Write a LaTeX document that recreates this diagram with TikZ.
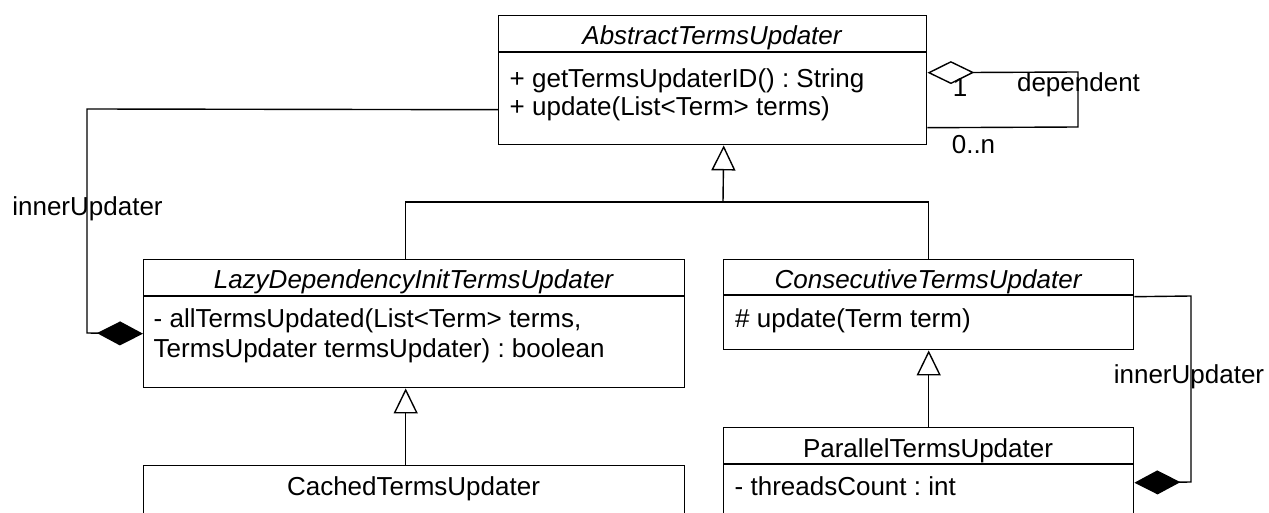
\documentclass[tikz,border=0pt]{standalone}
\usepackage{fontspec}
\setmainfont{Liberation Sans}
\usetikzlibrary{arrows.meta}
\frenchspacing
\begin{document}
\begin{tikzpicture}[x=1pt,y=-1pt,line width=1.4pt,
  cls/.style={draw,rectangle,inner sep=0pt,anchor=north west},
  txt/.style={inner sep=0pt,font=\fontsize{26}{28}\selectfont\frenchspacing},
  ttl/.style={txt,anchor=base},
  mem/.style={txt,anchor=base west},
  gen/.style={-{Triangle[open,length=25pt,width=24pt]}},
  comp/.style={-{Diamond[length=46pt,width=24pt]}},
  agg/.style={-{Diamond[open,length=47pt,width=23pt]}}]
\useasboundingbox (0,0) rectangle (1269,513);
\clip (0,0) rectangle (1269,513);
% class boxes
\node[cls,minimum width=428pt,minimum height=129pt] (abs) at (498,15) {};
\node[cls,minimum width=541pt,minimum height=128pt] (lazy) at (143,259) {};
\node[cls,minimum width=410pt,minimum height=90pt] (cons) at (723,259) {};
\node[cls,minimum width=410pt,minimum height=140pt] (par) at (723,427) {};
\node[cls,minimum width=541pt,minimum height=140pt] (cached) at (143,465) {};
% compartment separators
\draw ([yshift=-37pt]abs.north west) -- ([yshift=-37pt]abs.north east);
\draw ([yshift=-37pt]lazy.north west) -- ([yshift=-37pt]lazy.north east);
\draw ([yshift=-36pt]cons.north west) -- ([yshift=-36pt]cons.north east);
\draw ([yshift=-37pt]par.north west) -- ([yshift=-37pt]par.north east);
% texts
\node[ttl] (absT) at (712,45) {\itshape AbstractTermsUpdater};
\node[mem] (absM1) at (509,88) {+ getTermsUpdaterID() : String};
\node[mem] (absM2) at (509,116) {+ update(List<Term> terms)};
\node[ttl] (lazyT) at (413.5,288) {\itshape LazyDependencyInitTermsUpdater};
\node[mem] (lazyM1) at (153,327) {- allTermsUpdated(List<Term> terms,};
\node[mem] (lazyM2) at (153,357) {TermsUpdater termsUpdater) : boolean};
\node[ttl] (consT) at (928,288) {\itshape ConsecutiveTermsUpdater};
\node[mem] (consM) at (734.5,327) {\# update(Term term)};
\node[ttl] (parT) at (928,457) {ParallelTermsUpdater};
\node[mem] (parA) at (734,495) {- threadsCount : int};
\node[ttl] (cachedT) at (413.5,495) {CachedTermsUpdater};
% generalizations
\coordinate (gj) at (723,202);
\draw ([xshift=-8.5pt]lazy.north) |- (gj);
\draw (cons.north) |- (gj);
\draw[gen] (gj) -- ([xshift=11pt]abs.south);
\draw[gen] (par.north) -- (cons.south);
\draw[gen] ([xshift=-8.5pt]cached.north) -- ([xshift=-8.5pt]lazy.south);
% left composition
\coordinate (lc1) at (87,109);
\coordinate (lc2) at (87,333);
\draw[comp] ([yshift=-29.5pt]abs.west) -- (lc1) -- (lc2) -- ([yshift=-10pt]lazy.west);
\node[ttl] (lblL) at (87.5,216) {innerUpdater};
% right composition
\coordinate (rc1) at (1191,296);
\coordinate (rc2) at (1191,482);
\draw[comp] ([yshift=8pt]cons.east) -- (rc1) -- (rc2) -- ([yshift=15pt]par.east);
\node[ttl] (lblR) at (1189,383) {innerUpdater};
% self aggregation
\coordinate (sa1) at (1078,127);
\coordinate (sa2) at (1078,72);
\draw[agg] ([yshift=-47.5pt]abs.east) -- (sa1) -- (sa2) -- ([yshift=7.5pt]abs.east);
\node[ttl] (lbl1) at (960,97) {1};
\node[ttl] (lblDep) at (1078.5,92) {dependent};
\node[ttl] (lblN) at (973.5,154) {0..n};
\end{tikzpicture}
\end{document}
